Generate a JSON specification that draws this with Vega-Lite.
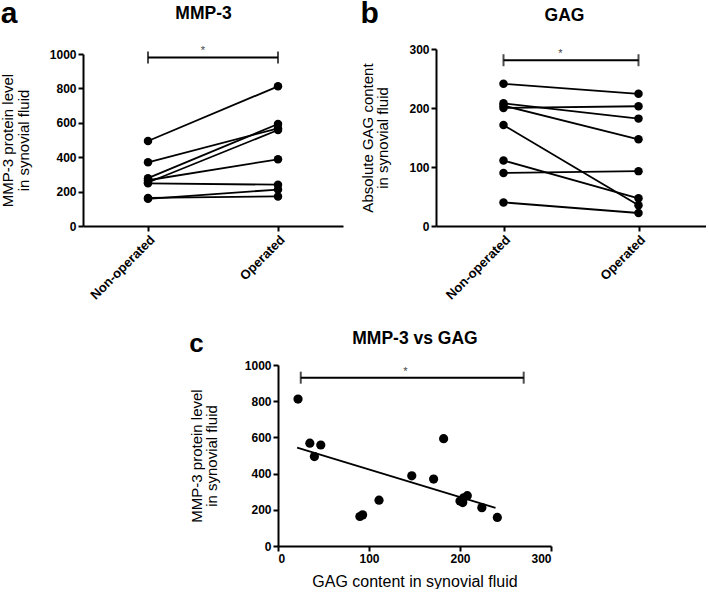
{
  "$schema": "https://vega.github.io/schema/vega-lite/v6.json",
  "padding": {"left": 0, "top": -2, "right": 0, "bottom": 0},
  "background": "white",
  "config": {
    "font": "Liberation Sans",
    "view": {"stroke": null},
    "axis": {"grid": false, "domainColor": "black", "domainWidth": 2, "tickColor": "black", "tickWidth": 2, "tickSize": 5, "labelColor": "black", "labelFontSize": 12, "labelFontWeight": "bold", "labelPadding": 2, "titleColor": "black", "titleFontSize": 15, "titleFontWeight": "normal", "titleLineHeight": 15.5},
    "title": {"fontSize": 30, "fontWeight": "bold", "color": "black", "anchor": "start", "frame": "bounds", "baseline": "alphabetic", "offset": 0}
  },
  "datasets": {
    "pairs": [
      {"animal": 1, "group": "Non-operated", "mmp": 494, "gag": 40},
      {"animal": 1, "group": "Operated", "mmp": 812, "gag": 22},
      {"animal": 2, "group": "Non-operated", "mmp": 370, "gag": 171},
      {"animal": 2, "group": "Operated", "mmp": 568, "gag": 35},
      {"animal": 3, "group": "Non-operated", "mmp": 253, "gag": 111},
      {"animal": 3, "group": "Operated", "mmp": 558, "gag": 47},
      {"animal": 4, "group": "Non-operated", "mmp": 278, "gag": 208},
      {"animal": 4, "group": "Operated", "mmp": 593, "gag": 182},
      {"animal": 5, "group": "Non-operated", "mmp": 266, "gag": 204},
      {"animal": 5, "group": "Operated", "mmp": 388, "gag": 147},
      {"animal": 6, "group": "Non-operated", "mmp": 248, "gag": 200},
      {"animal": 6, "group": "Operated", "mmp": 240, "gag": 203},
      {"animal": 7, "group": "Non-operated", "mmp": 163, "gag": 90},
      {"animal": 7, "group": "Operated", "mmp": 172, "gag": 93},
      {"animal": 8, "group": "Non-operated", "mmp": 158, "gag": 241},
      {"animal": 8, "group": "Operated", "mmp": 212, "gag": 224}
    ],
    "sigA": [{"from": "Non-operated", "to": "Operated", "y": 980}],
    "sigB": [{"from": "Non-operated", "to": "Operated", "y": 281}],
    "sigC": [{"from": 25, "to": 270, "y": 930, "mid": 140}],
    "fit": [{"gag": 21, "mmp": 543}, {"gag": 239, "mmp": 211}]
  },
  "spacing": 27,
  "align": "none",
  "vconcat": [
    {
      "hconcat": [
        {
          "vconcat": [
            {"width": 1, "height": 1, "data": {"values": []}, "mark": "point"},
            {
              "width": 260, "height": 172,
              "title": {"text": "a", "dy": 29},
              "data": {"name": "pairs"},
              "layer": [
                {"mark": {"type": "line", "color": "black", "strokeWidth": 1.8},
                 "encoding": {
                   "x": {"field": "group", "type": "nominal", "scale": {"type": "point", "padding": 0.5}, "axis": {"orient": "bottom", "title": null, "labelAngle": -45, "labelFontSize": 13}},
                   "y": {"field": "mmp", "type": "quantitative", "scale": {"domain": [0, 1000], "nice": false}, "axis": {"values": [0, 200, 400, 600, 800, 1000], "format": "d", "title": ["MMP-3 protein level", "in synovial fluid"], "titlePadding": 18}},
                   "detail": {"field": "animal", "type": "nominal"}
                 }},
                {"mark": {"type": "point", "filled": true, "color": "black", "size": 72, "opacity": 1},
                 "encoding": {
                   "x": {"field": "group", "type": "nominal", "scale": {"type": "point", "padding": 0.5}, "axis": null},
                   "y": {"field": "mmp", "type": "quantitative", "axis": null}
                 }},
                {"data": {"name": "sigA"}, "mark": {"type": "rule", "color": "black", "strokeWidth": 2},
                 "encoding": {
                   "x": {"field": "from", "type": "nominal", "scale": {"type": "point", "padding": 0.5}, "axis": {"orient": "top", "title": "MMP-3", "labels": false, "ticks": false, "domain": false, "titleFontSize": 17.5, "titleFontWeight": "bold", "titlePadding": 32, "titleX": 120}},
                   "x2": {"field": "to"},
                   "y": {"field": "y", "type": "quantitative", "axis": null}
                 }},
                {"data": {"name": "sigA"}, "mark": {"type": "tick", "orient": "vertical", "color": "black", "size": 12, "thickness": 2},
                 "encoding": {
                   "x": {"field": "from", "type": "nominal", "scale": {"type": "point", "padding": 0.5}, "axis": null},
                   "y": {"field": "y", "type": "quantitative", "axis": null}
                 }},
                {"data": {"name": "sigA"}, "mark": {"type": "tick", "orient": "vertical", "color": "black", "size": 12, "thickness": 2},
                 "encoding": {
                   "x": {"field": "to", "type": "nominal", "scale": {"type": "point", "padding": 0.5}, "axis": null},
                   "y": {"field": "y", "type": "quantitative", "axis": null}
                 }},
                {"data": {"name": "sigA"}, "mark": {"type": "text", "text": "*", "fontSize": 11, "color": "#444", "baseline": "bottom", "dx": 55, "dy": -1},
                 "encoding": {
                   "x": {"field": "from", "type": "nominal", "scale": {"type": "point", "padding": 0.5}, "axis": null},
                   "y": {"field": "y", "type": "quantitative", "axis": null}
                 }}
              ],
              "resolve": {"axis": {"x": "independent", "y": "independent"}}
            }
          ],
          "spacing": 0
        },
        {
          "vconcat": [
            {"width": 1, "height": 1, "data": {"values": []}, "mark": "point"},
            {
              "width": 270, "height": 177,
              "title": {"text": "b", "dy": 26.6},
              "data": {"name": "pairs"},
              "layer": [
                {"mark": {"type": "line", "color": "black", "strokeWidth": 1.8},
                 "encoding": {
                   "x": {"field": "group", "type": "nominal", "scale": {"type": "point", "padding": 0.5}, "axis": {"orient": "bottom", "title": null, "labelAngle": -45, "labelFontSize": 13}},
                   "y": {"field": "gag", "type": "quantitative", "scale": {"domain": [0, 300], "nice": false}, "axis": {"values": [0, 100, 200, 300], "format": "d", "title": ["Absolute GAG content", "in synovial fluid"], "titlePadding": 18}},
                   "detail": {"field": "animal", "type": "nominal"}
                 }},
                {"mark": {"type": "point", "filled": true, "color": "black", "size": 72, "opacity": 1},
                 "encoding": {
                   "x": {"field": "group", "type": "nominal", "scale": {"type": "point", "padding": 0.5}, "axis": null},
                   "y": {"field": "gag", "type": "quantitative", "axis": null}
                 }},
                {"data": {"name": "sigB"}, "mark": {"type": "rule", "color": "black", "strokeWidth": 2},
                 "encoding": {
                   "x": {"field": "from", "type": "nominal", "scale": {"type": "point", "padding": 0.5}, "axis": {"orient": "top", "title": "GAG", "labels": false, "ticks": false, "domain": false, "titleFontSize": 17.5, "titleFontWeight": "bold", "titlePadding": 24.4, "titleX": 128}},
                   "x2": {"field": "to"},
                   "y": {"field": "y", "type": "quantitative", "axis": null}
                 }},
                {"data": {"name": "sigB"}, "mark": {"type": "tick", "orient": "vertical", "color": "black", "size": 12, "thickness": 2},
                 "encoding": {
                   "x": {"field": "from", "type": "nominal", "scale": {"type": "point", "padding": 0.5}, "axis": null},
                   "y": {"field": "y", "type": "quantitative", "axis": null}
                 }},
                {"data": {"name": "sigB"}, "mark": {"type": "tick", "orient": "vertical", "color": "black", "size": 12, "thickness": 2},
                 "encoding": {
                   "x": {"field": "to", "type": "nominal", "scale": {"type": "point", "padding": 0.5}, "axis": null},
                   "y": {"field": "y", "type": "quantitative", "axis": null}
                 }},
                {"data": {"name": "sigB"}, "mark": {"type": "text", "text": "*", "fontSize": 11, "color": "#444", "baseline": "bottom", "dx": 57, "dy": -1},
                 "encoding": {
                   "x": {"field": "from", "type": "nominal", "scale": {"type": "point", "padding": 0.5}, "axis": null},
                   "y": {"field": "y", "type": "quantitative", "axis": null}
                 }}
              ],
              "resolve": {"axis": {"x": "independent", "y": "independent"}}
            }
          ],
          "spacing": 0
        }
      ],
      "spacing": 17
    },
    {
      "hconcat": [
        {"width": 106, "height": 20, "data": {"values": []}, "mark": "point"},
        {
          "width": 273, "height": 181,
          "title": {"text": "c", "fontSize": 26, "dy": 31},
          "layer": [
            {"data": {"name": "pairs"}, "mark": {"type": "point", "filled": true, "color": "black", "size": 85, "opacity": 1},
             "encoding": {
               "x": {"field": "gag", "type": "quantitative", "scale": {"domain": [0, 300], "nice": false}, "axis": {"orient": "bottom", "values": [0, 100, 200, 300], "title": "GAG content in synovial fluid", "titleFontSize": 16, "titlePadding": 9}},
               "y": {"field": "mmp", "type": "quantitative", "scale": {"domain": [0, 1000], "nice": false}, "axis": {"values": [0, 200, 400, 600, 800, 1000], "format": "d", "title": ["MMP-3 protein level", "in synovial fluid"], "titlePadding": 24.5}}
             }},
            {"data": {"name": "fit"}, "mark": {"type": "line", "color": "black", "strokeWidth": 1.8},
             "encoding": {
               "x": {"field": "gag", "type": "quantitative", "axis": null},
               "y": {"field": "mmp", "type": "quantitative", "axis": null}
             }},
            {"data": {"name": "sigC"}, "mark": {"type": "rule", "color": "black", "strokeWidth": 2},
             "encoding": {
               "x": {"field": "from", "type": "quantitative", "axis": {"orient": "top", "title": "MMP-3 vs GAG", "labels": false, "ticks": false, "domain": false, "titleFontSize": 17.5, "titleFontWeight": "bold", "titlePadding": 17.3}},
               "x2": {"field": "to"},
               "y": {"field": "y", "type": "quantitative", "axis": null}
             }},
            {"data": {"name": "sigC"}, "mark": {"type": "tick", "orient": "vertical", "color": "black", "size": 12, "thickness": 2},
             "encoding": {
               "x": {"field": "from", "type": "quantitative", "axis": null},
               "y": {"field": "y", "type": "quantitative", "axis": null}
             }},
            {"data": {"name": "sigC"}, "mark": {"type": "tick", "orient": "vertical", "color": "black", "size": 12, "thickness": 2},
             "encoding": {
               "x": {"field": "to", "type": "quantitative", "axis": null},
               "y": {"field": "y", "type": "quantitative", "axis": null}
             }},
            {"data": {"name": "sigC"}, "mark": {"type": "text", "text": "*", "fontSize": 11, "color": "#444", "baseline": "bottom", "dy": -1},
             "encoding": {
               "x": {"field": "mid", "type": "quantitative", "axis": null},
               "y": {"field": "y", "type": "quantitative", "axis": null}
             }}
          ],
          "resolve": {"axis": {"x": "independent", "y": "independent"}}
        }
      ],
      "spacing": 0
    }
  ]
}
